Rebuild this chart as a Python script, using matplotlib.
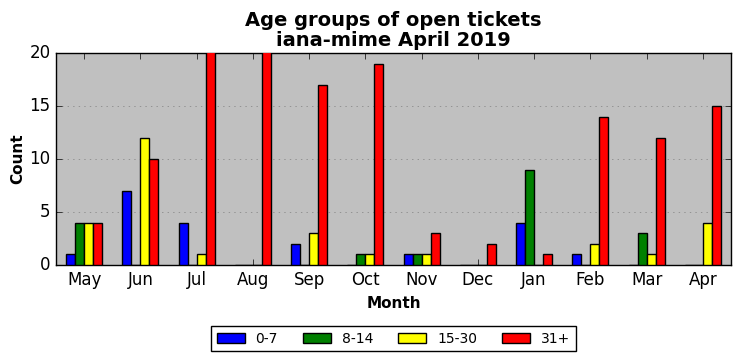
import matplotlib
matplotlib.use("Agg")
import matplotlib.pyplot as plt
import numpy as np

plt.style.use('classic')

months = ["May", "Jun", "Jul", "Aug", "Sep", "Oct", "Nov", "Dec", "Jan", "Feb", "Mar", "Apr"]
series_names = ["0-7", "8-14", "15-30", "31+"]
age_0_7 = [1, 7, 4, 0, 2, 0, 1, 0, 4, 1, 0, 0]
age_8_14 = [4, 0, 0, 0, 0, 1, 1, 0, 9, 0, 3, 0]
age_15_30 = [4, 12, 1, 0, 3, 1, 1, 0, 0, 2, 1, 4]
age_31p = [4, 10, 24, 28, 17, 19, 3, 2, 1, 14, 12, 15]
colors = ["blue", "green", "yellow", "red"]

fig = plt.figure(figsize=(7.42, 3.61), dpi=100)
fig.patch.set_facecolor("white")
ax = fig.add_axes([56/742, 1-265/361, (731-56)/742, (265-53)/361])
ax.set_facecolor("#c0c0c0")

x = np.arange(len(months))
w = 0.16
data = [age_0_7, age_8_14, age_15_30, age_31p]
for i, (vals, c, name) in enumerate(zip(data, colors, series_names)):
    ax.bar(x + (i - 2) * w, vals, width=w, align="edge", color=c,
           edgecolor="black", linewidth=1, label=name, zorder=3)

ax.set_xlim(-0.5, 11.5)
ax.set_ylim(0, 20)
ax.set_xticks(x)
ax.set_xticklabels(months, fontsize=12)
ax.set_yticks([0, 5, 10, 15, 20])
ax.tick_params(axis='y', labelsize=12)
ax.yaxis.grid(True, linestyle=':', color='gray', zorder=0)
ax.set_axisbelow(True)
ax.set_xlabel("Month", fontsize=11, fontweight="bold")
ax.set_ylabel("Count", fontsize=11, fontweight="bold", labelpad=3)
ax.set_title("Age groups of open tickets\niana-mime April 2019", fontsize=14, fontweight="bold", linespacing=1.1)

leg = ax.legend(loc="upper center", bbox_to_anchor=(0.5, -0.255), ncol=4, fontsize=10,
                frameon=True, handlelength=2.0, columnspacing=1.8)
leg.get_frame().set_linewidth(1)

fig.savefig("out.png", dpi=100, facecolor="white")
